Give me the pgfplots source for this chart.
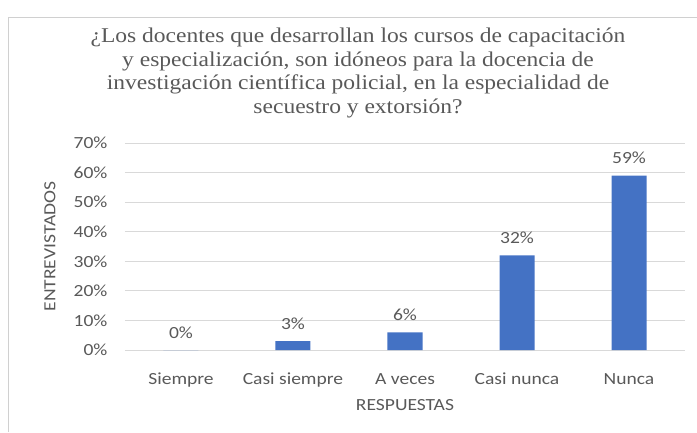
\documentclass[border=0pt]{standalone}
\usepackage{fontspec}
\setmainfont{Liberation Serif}[FakeStretch=1.12]
\newfontfamily\calibri[FakeStretch=1.15]{Carlito}
\usepackage{pgfplots}
\pgfplotsset{compat=1.18}
\definecolor{barblue}{HTML}{4472C4}
\definecolor{txtgray}{HTML}{595959}
\definecolor{gridgray}{HTML}{D9D9D9}
\definecolor{framegray}{HTML}{D0D0D0}
\begin{document}
\begin{tikzpicture}
\useasboundingbox (0pt,0pt) rectangle (697pt,-432pt);
\draw[framegray, line width=1pt] (8pt,-432pt) -- (8pt,-17pt) -- (697pt,-17pt);
\node[align=center, text=txtgray, font=\fontsize{21}{23.7}\selectfont] at (358pt,-73pt)
  {¿Los docentes que desarrollan los cursos de capacitación\\
   y especialización, son idóneos para la docencia de\\
   investigación científica policial, en la especialidad de\\
   secuestro y extorsión?};
\begin{axis}[
  at={(125pt,-350pt)}, anchor=south west,
  scale only axis, width=560pt, height=207pt,
  xmin=-0.5, xmax=4.5, ymin=0, ymax=70,
  ytick={0,10,...,70},
  xtick=data,
  xticklabels={Siempre,Casi siempre,A veces,Casi nunca,Nunca},
  yticklabel={\pgfmathprintnumber{\tick}\%},
  /pgf/number format/assume math mode=true,
  ymajorgrids, grid style={gridgray, line width=1pt},
  axis line style={draw=none},
  major tick style={draw=none},
  ticklabel style={font=\calibri\fontsize{17}{20}\selectfont, text=txtgray},
  yticklabel style={xshift=-14pt},
  xticklabel style={anchor=base, yshift=-30pt},
  ybar, bar width=35pt,
  nodes near coords={\pgfmathprintnumber{\pgfplotspointmeta}\%},
  nodes near coords style={font=\calibri\fontsize{17}{20}\selectfont, text=txtgray, yshift=8pt},
  ylabel={ENTREVISTADOS}, xlabel={RESPUESTAS},
  label style={font=\calibri\fontsize{17}{20}\selectfont, text=txtgray},
  ylabel style={at={(axis description cs:-0.134,0.5)}, anchor=center},
  xlabel style={at={(axis description cs:0.5,0)}, anchor=base, yshift=-60pt},
]
\addplot[fill=barblue, draw=none] coordinates {(0,0) (1,3) (2,6) (3,32) (4,59)};
\end{axis}
\end{tikzpicture}
\end{document}
